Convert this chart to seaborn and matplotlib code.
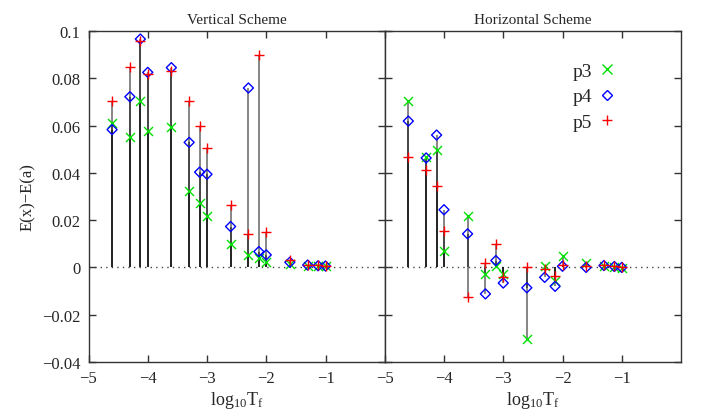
import numpy as np
import pandas as pd
import matplotlib
matplotlib.use("Agg")
import matplotlib.pyplot as plt
import seaborn as sns
from matplotlib.lines import Line2D

# x positions: log10 of T_f
log_tf = [-4.602, -4.301, -4.125, -4.0, -3.602, -3.301, -3.125, -3.0,
          -2.602, -2.301, -2.125, -2.0, -1.602, -1.301, -1.125, -1.0]

# Vertical scheme
vert_p3 = [0.0611, 0.0550, 0.0703, 0.0578, 0.0593, 0.0325, 0.0271, 0.0216,
           0.0098, 0.0053, 0.0039, 0.0025, 0.0015, 0.0008, 0.0006, 0.0005]
vert_p4 = [0.0583, 0.0722, 0.0966, 0.0825, 0.0845, 0.0529, 0.0403, 0.0394,
           0.0173, 0.0759, 0.0067, 0.0053, 0.0022, 0.0010, 0.0007, 0.0006]
vert_p5 = [0.0705, 0.0846, 0.0956, 0.0818, 0.0832, 0.0705, 0.0597, 0.0505,
           0.0264, 0.0140, 0.0898, 0.0151, 0.0032, 0.0012, 0.0009, 0.0007]

# Horizontal scheme
hor_p3 = [0.0705, 0.0468, 0.0497, 0.0071, 0.0219, -0.0026, 0.0008, -0.0027,
          -0.0302, 0.0005, -0.0056, 0.0050, 0.0019, 0.0005, 0.0000, -0.0002]
hor_p4 = [0.0619, 0.0463, 0.0560, 0.0244, 0.0142, -0.0112, 0.0029, -0.0066,
          -0.0086, -0.0042, -0.0080, 0.0005, 0.0000, 0.0008, 0.0004, 0.0000]
hor_p5 = [0.0468, 0.0412, 0.0346, 0.0156, -0.0126, 0.0020, 0.0099, -0.0042,
          0.0003, -0.0006, -0.0037, 0.0011, 0.0008, 0.0011, 0.0008, 0.0000]

series_names = ["p3", "p4", "p5"]
panel_titles = ["Vertical Scheme", "Horizontal Scheme"]
xticks = [-5, -4, -3, -2, -1]
yticks = [-0.04, -0.02, 0, 0.02, 0.04, 0.06, 0.08, 0.1]
ytick_labels = ["\u22120.04", "\u22120.02", "0", "0.02", "0.04", "0.06", "0.08", "0.1"]
xtick_labels = ["\u22125", "\u22124", "\u22123", "\u22122", "\u22121"]

sns.set_style("ticks")
plt.rcParams["font.family"] = ["Liberation Serif", "DejaVu Serif"]
plt.rcParams["mathtext.fontset"] = "custom"
plt.rcParams["mathtext.rm"] = "Liberation Serif"
plt.rcParams["mathtext.it"] = "Liberation Serif"

colors = {"p3": "#00e000", "p4": "#0000ff", "p5": "#ff0000"}
markers = {"p3": "x", "p4": "D", "p5": "+"}
sizes = {"p3": 42, "p4": 26, "p5": 60}

fig = plt.figure(figsize=(7.03, 4.14), dpi=100)
L, R, B, T = 88.5 / 703, 681 / 703, 51 / 414, 382 / 414
W = (R - L) / 2
axes = [fig.add_axes([L, B, W, T - B]), fig.add_axes([L + W, B, W, T - B])]

data_sets = [
    {"p3": vert_p3, "p4": vert_p4, "p5": vert_p5},
    {"p3": hor_p3, "p4": hor_p4, "p5": hor_p5},
]

for i, (ax, ds) in enumerate(zip(axes, data_sets)):
    frames = []
    for name in series_names:
        frames.append(pd.DataFrame({"x": log_tf, "y": ds[name], "series": name}))
    df = pd.concat(frames, ignore_index=True)

    # zero line
    ax.axhline(0, color="#444444", lw=1.0, ls=(0, (1, 3)), zorder=1)
    # stems (impulses)
    for name in series_names:
        sub = df[df.series == name]
        ax.vlines(sub.x, 0, sub.y, color="black", lw=1.1, alpha=0.6, zorder=2)
    # points
    for name in series_names:
        sub = df[df.series == name]
        if markers[name] == "D":
            sns.scatterplot(data=sub, x="x", y="y", ax=ax, marker="D", s=sizes[name],
                            facecolor="none", edgecolor=colors[name], linewidth=1.0,
                            zorder=4, legend=False)
        else:
            sns.scatterplot(data=sub, x="x", y="y", ax=ax, marker=markers[name],
                            s=sizes[name], color=colors[name], linewidth=1.0,
                            zorder=4, legend=False)

    ax.set_xlim(-5, 0)
    ax.set_ylim(-0.04, 0.1)
    ax.set_xticks(xticks)
    ax.set_xticklabels(xtick_labels, fontsize=12)
    ax.set_yticks(yticks)
    ax.tick_params(direction="in", length=5, width=1.0, color="#333333",
                   top=True, right=True, pad=6)
    for sp in ax.spines.values():
        sp.set_visible(True)
        sp.set_color("#333333")
        sp.set_linewidth(1.0)
    ax.set_title(panel_titles[i], fontsize=11, pad=6)
    ax.set_xlabel(r"log$_{10}$T$_{\rm f}$", fontsize=13, labelpad=2)
    ax.set_ylabel("")
    if i == 0:
        ax.set_yticklabels(ytick_labels, fontsize=12)
        ax.set_ylabel("E(x)\u2212E(a)", fontsize=12, labelpad=4)
    else:
        ax.set_yticklabels([])

# legend in right panel
handles = []
for name in series_names:
    if markers[name] == "D":
        h = Line2D([], [], ls="none", marker="D", markersize=5.2, markerfacecolor="none",
                   markeredgecolor=colors[name], markeredgewidth=1.0)
    else:
        h = Line2D([], [], ls="none", marker=markers[name], markersize=7,
                   color=colors[name], markeredgewidth=1.0)
    handles.append(h)
axes[1].legend(handles, series_names, loc="upper right", bbox_to_anchor=(0.775, 0.905),
               frameon=False, markerfirst=False, fontsize=14, handlelength=0.8,
               handletextpad=0.35, labelspacing=0.4, borderaxespad=0, borderpad=0)

fig.savefig("out.png", dpi=100)
